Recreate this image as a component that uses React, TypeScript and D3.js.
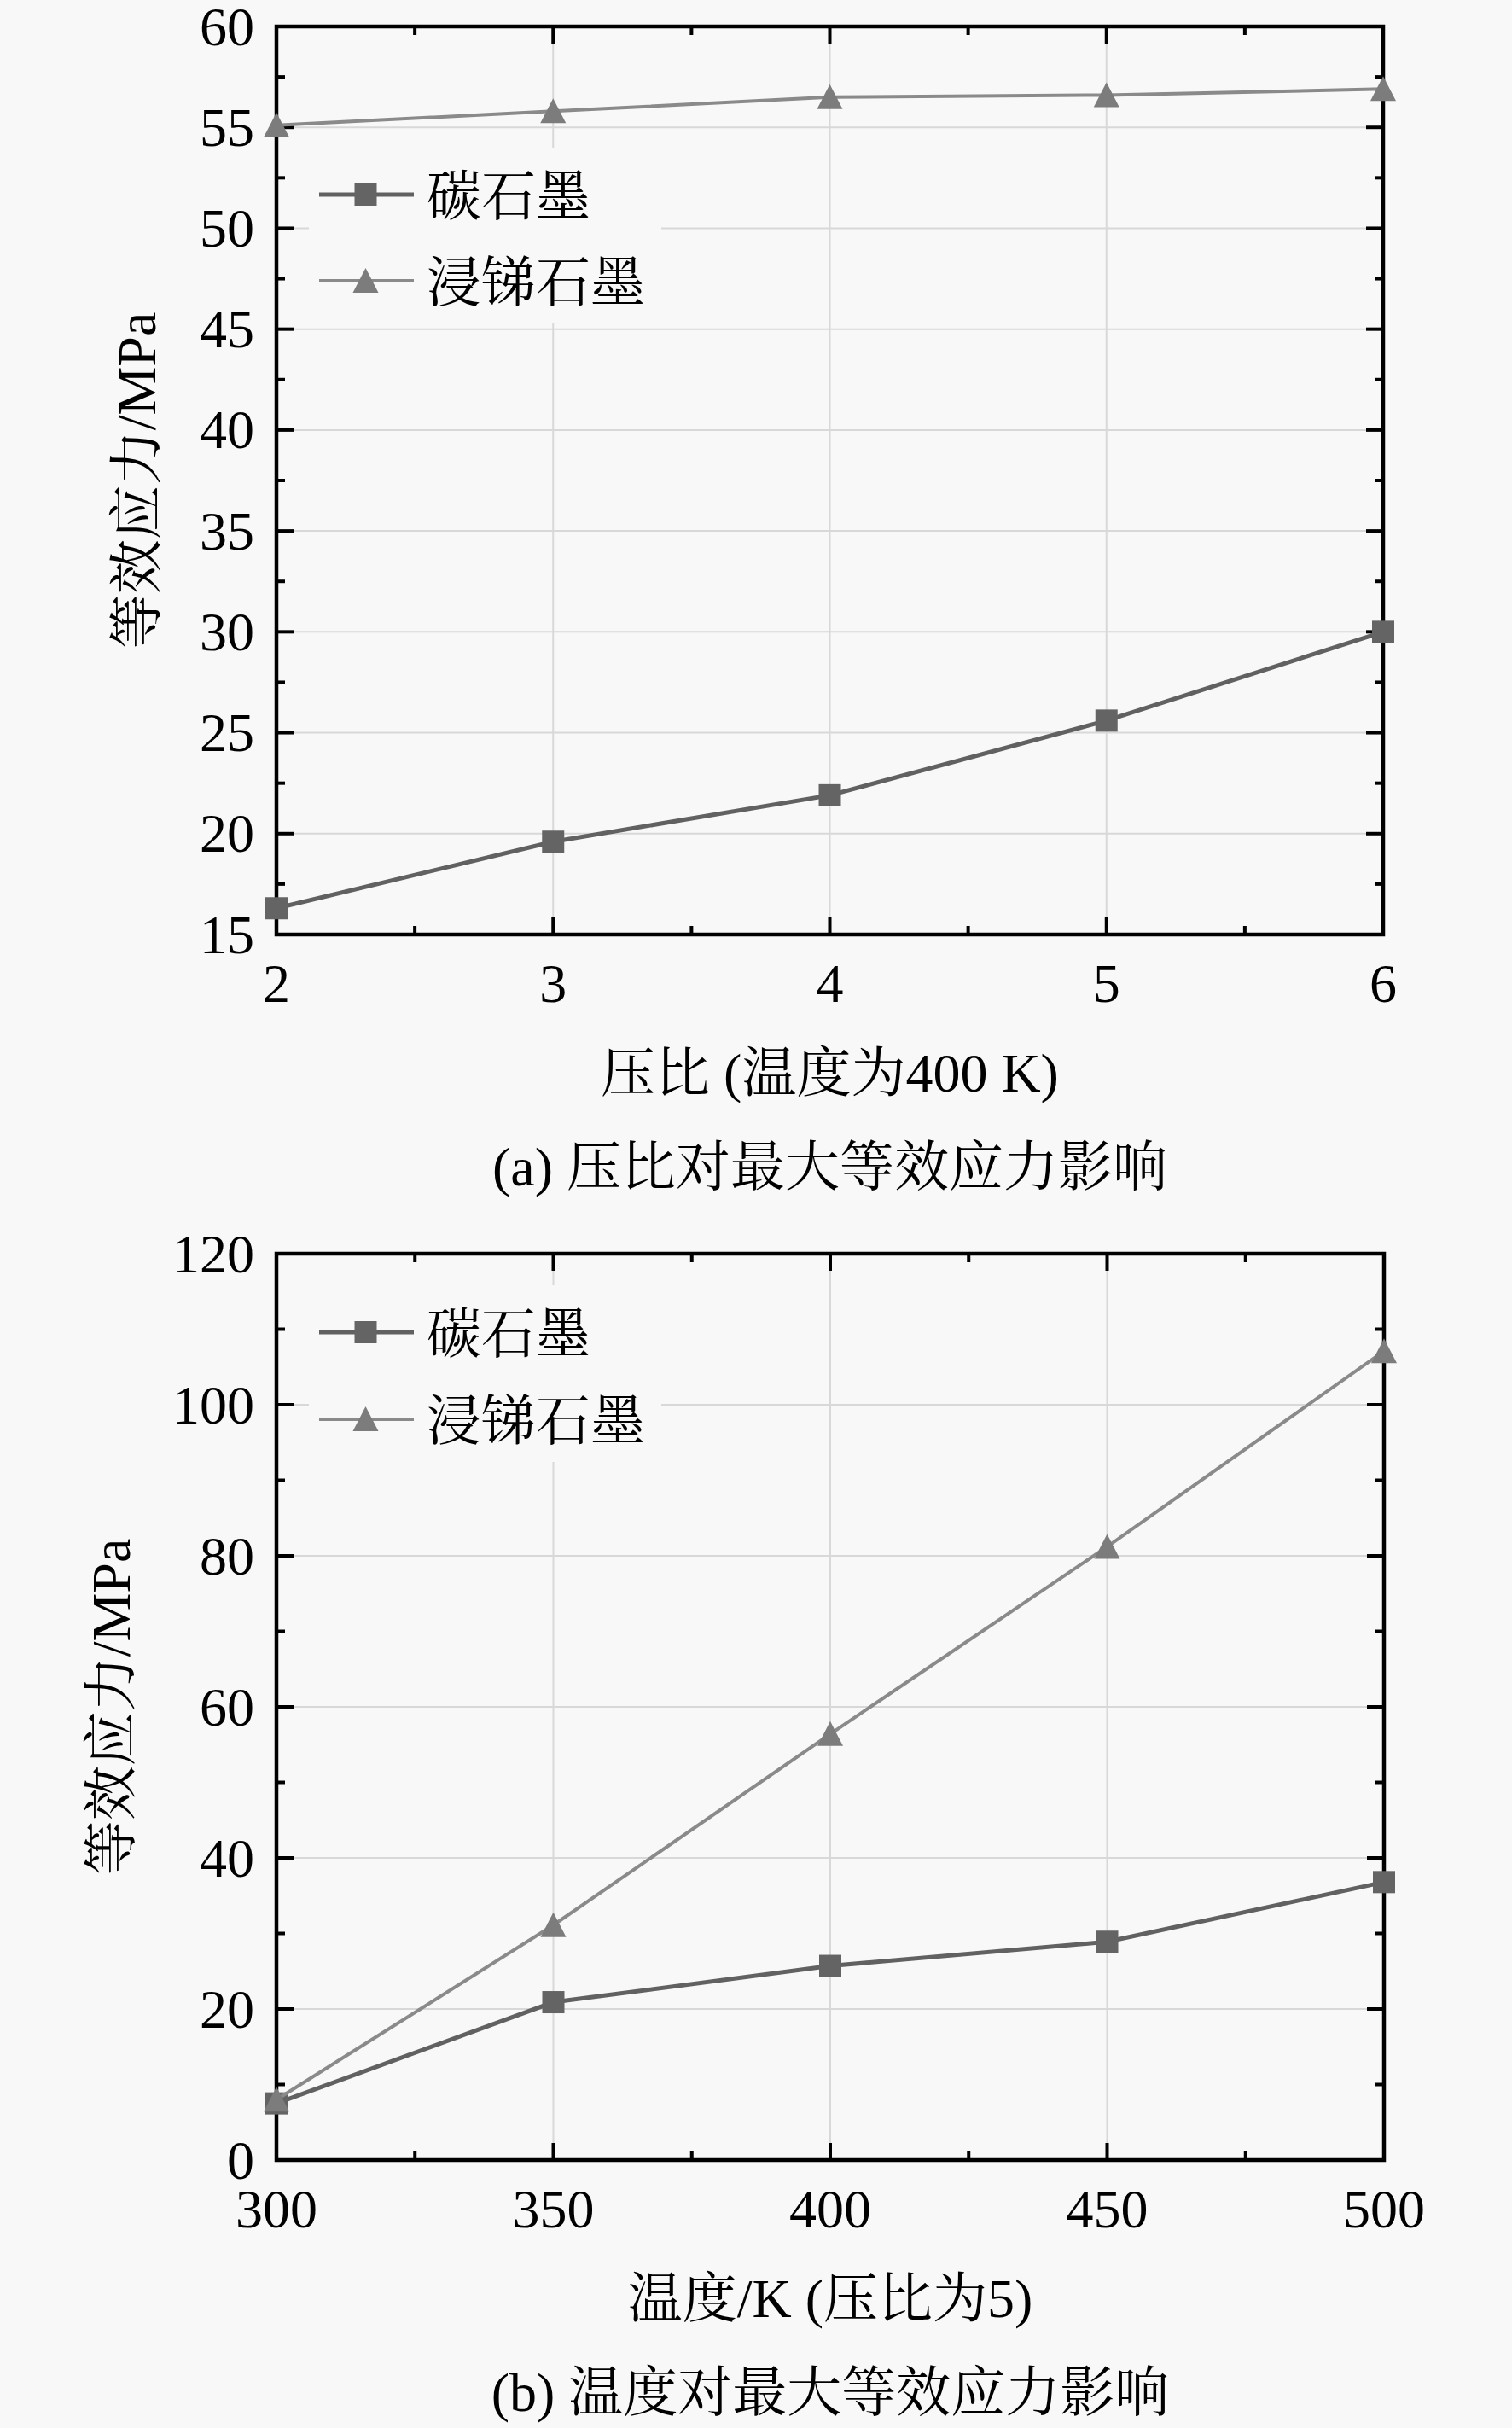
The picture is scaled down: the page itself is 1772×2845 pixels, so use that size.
import { useEffect, useRef } from "react";
import * as d3 from "d3";

const W = 1772;
const H = 2845;
const FONT =
  "'Liberation Serif', 'Times New Roman', 'Noto Serif CJK SC', 'Noto Sans CJK SC', serif";

// (a) 压比
const ratioTicks = [2, 3, 4, 5, 6];
const ratioYTicks = [15, 20, 25, 30, 35, 40, 45, 50, 55, 60];
const ratioCarbon = [16.3, 19.6, 21.9, 25.6, 30.0];
const ratioAntimony = [55.1, 55.8, 56.5, 56.6, 56.9];

// (b) 温度
const tempTicks = [300, 350, 400, 450, 500];
const tempYTicks = [0, 20, 40, 60, 80, 100, 120];
const tempCarbon = [7.5, 20.9, 25.7, 28.9, 36.8];
const tempAntimony = [8.0, 31.1, 56.4, 81.2, 107.1];

const seriesNames = ["碳石墨", "浸锑石墨"];

type Panel = {
  left: number;
  right: number;
  top: number;
  bottom: number;
  xTicks: number[];
  yTicks: number[];
  carbon: number[];
  antimony: number[];
  yTitleX: number;
  legendY: number[];
  xTitle: string;
  caption: string;
};

function drawPanel(svg: d3.Selection<SVGSVGElement, unknown, null, undefined>, p: Panel) {
  const x = d3
    .scaleLinear()
    .domain([p.xTicks[0], p.xTicks[p.xTicks.length - 1]])
    .range([p.left, p.right]);
  const y = d3
    .scaleLinear()
    .domain([p.yTicks[0], p.yTicks[p.yTicks.length - 1]])
    .range([p.bottom, p.top]);

  const g = svg.append("g");

  // grid
  g.selectAll(".gx")
    .data(p.xTicks.slice(1, -1))
    .join("line")
    .attr("x1", (d) => x(d))
    .attr("x2", (d) => x(d))
    .attr("y1", p.top)
    .attr("y2", p.bottom)
    .attr("stroke", "#d8d8d8")
    .attr("stroke-width", 2);
  g.selectAll(".gy")
    .data(p.yTicks.slice(1, -1))
    .join("line")
    .attr("x1", p.left)
    .attr("x2", p.right)
    .attr("y1", (d) => y(d))
    .attr("y2", (d) => y(d))
    .attr("stroke", "#d8d8d8")
    .attr("stroke-width", 2);

  // legend background
  g.append("rect")
    .attr("x", 362)
    .attr("y", p.legendY[0] - 55)
    .attr("width", 413)
    .attr("height", p.legendY[1] - p.legendY[0] + 105)
    .attr("fill", "#f8f8f8");

  // frame + ticks
  g.append("rect")
    .attr("x", p.left)
    .attr("y", p.top)
    .attr("width", p.right - p.left)
    .attr("height", p.bottom - p.top)
    .attr("fill", "none")
    .attr("stroke", "#000")
    .attr("stroke-width", 4.5);

  const xMinor = d3.pairs(p.xTicks).map(([a, b]) => (a + b) / 2);
  const yMinor = d3.pairs(p.yTicks).map(([a, b]) => (a + b) / 2);
  const xt = [
    ...p.xTicks.map((v) => ({ v, len: 20 })),
    ...xMinor.map((v) => ({ v, len: 10 })),
  ];
  const yt = [
    ...p.yTicks.map((v) => ({ v, len: 20 })),
    ...yMinor.map((v) => ({ v, len: 10 })),
  ];
  [p.bottom, p.top].forEach((base, i) => {
    g.selectAll(null)
      .data(xt)
      .join("line")
      .attr("x1", (d) => x(d.v))
      .attr("x2", (d) => x(d.v))
      .attr("y1", base)
      .attr("y2", (d) => (i === 0 ? base - d.len : base + d.len))
      .attr("stroke", "#000")
      .attr("stroke-width", 4);
  });
  [p.left, p.right].forEach((base, i) => {
    g.selectAll(null)
      .data(yt)
      .join("line")
      .attr("y1", (d) => y(d.v))
      .attr("y2", (d) => y(d.v))
      .attr("x1", base)
      .attr("x2", (d) => (i === 0 ? base + d.len : base - d.len))
      .attr("stroke", "#000")
      .attr("stroke-width", 4);
  });

  // series
  const series = [
    { vals: p.carbon, line: "#616161", fill: "#646464", width: 5, shape: "square" },
    { vals: p.antimony, line: "#8a8a8a", fill: "#7c7c7c", width: 4, shape: "triangle" },
  ];
  const squarePath = "M-13,-13H13V13H-13Z";
  const trianglePath = "M0,-15L15,14L-15,14Z";
  const line = d3
    .line<number>()
    .x((_d, i) => x(p.xTicks[i]))
    .y((d) => y(d));

  series.forEach((s) => {
    g.append("path")
      .datum(s.vals)
      .attr("d", line)
      .attr("fill", "none")
      .attr("stroke", s.line)
      .attr("stroke-width", s.width);
    g.selectAll(null)
      .data(s.vals)
      .join("path")
      .attr("transform", (d, i) => `translate(${x(p.xTicks[i])},${y(d)})`)
      .attr("d", s.shape === "square" ? squarePath : trianglePath)
      .attr("fill", s.fill);
  });

  // legend
  series.forEach((s, i) => {
    const ly = p.legendY[i];
    g.append("line")
      .attr("x1", 374)
      .attr("x2", 485)
      .attr("y1", ly)
      .attr("y2", ly)
      .attr("stroke", s.line)
      .attr("stroke-width", s.width);
    g.append("path")
      .attr("transform", `translate(428.5,${ly})`)
      .attr("d", s.shape === "square" ? squarePath : trianglePath)
      .attr("fill", s.fill);
    g.append("text")
      .attr("x", 500)
      .attr("y", ly + 2)
      .attr("dominant-baseline", "central")
      .attr("font-size", 64)
      .attr("fill", "#000")
      .text(seriesNames[i]);
  });

  // tick labels
  g.selectAll(null)
    .data(p.xTicks)
    .join("text")
    .attr("x", (d) => x(d))
    .attr("y", p.bottom + 57)
    .attr("text-anchor", "middle")
    .attr("dominant-baseline", "central")
    .attr("font-size", 64)
    .text((d) => String(d));
  g.selectAll(null)
    .data(p.yTicks)
    .join("text")
    .attr("x", p.left - 26)
    .attr("y", (d) => y(d))
    .attr("text-anchor", "end")
    .attr("dominant-baseline", "central")
    .attr("font-size", 64)
    .text((d) => String(d));

  // titles
  const cx = (p.left + p.right) / 2;
  g.append("text")
    .attr("transform", `translate(${p.yTitleX},${(p.top + p.bottom) / 2}) rotate(-90)`)
    .attr("text-anchor", "middle")
    .attr("dominant-baseline", "central")
    .attr("font-size", 64)
    .text("等效应力/MPa");
  g.append("text")
    .attr("x", cx)
    .attr("y", p.bottom + 162)
    .attr("text-anchor", "middle")
    .attr("dominant-baseline", "central")
    .attr("font-size", 64)
    .text(p.xTitle);
  g.append("text")
    .attr("x", cx)
    .attr("y", p.bottom + 272)
    .attr("text-anchor", "middle")
    .attr("dominant-baseline", "central")
    .attr("font-size", 64)
    .text(p.caption);
}

export default function App() {
  const svgRef = useRef<SVGSVGElement>(null);

  useEffect(() => {
    if (!svgRef.current) return;
    const svg = d3.select(svgRef.current);
    svg.selectAll("*").remove();

    svg.append("rect").attr("width", W).attr("height", H).attr("fill", "#f8f8f8");

    drawPanel(svg, {
      left: 324,
      right: 1621,
      top: 31,
      bottom: 1095,
      xTicks: ratioTicks,
      yTicks: ratioYTicks,
      carbon: ratioCarbon,
      antimony: ratioAntimony,
      yTitleX: 160,
      legendY: [228, 329],
      xTitle: "压比 (温度为400 K)",
      caption: "(a) 压比对最大等效应力影响",
    });

    drawPanel(svg, {
      left: 324,
      right: 1622,
      top: 1469,
      bottom: 2531,
      xTicks: tempTicks,
      yTicks: tempYTicks,
      carbon: tempCarbon,
      antimony: tempAntimony,
      yTitleX: 130,
      legendY: [1561, 1663],
      xTitle: "温度/K (压比为5)",
      caption: "(b) 温度对最大等效应力影响",
    });
  }, []);

  return (
    <div style={{ position: "absolute", left: 0, top: 0 }}>
      <svg
        ref={svgRef}
        width={W}
        height={H}
        style={{ display: "block", fontFamily: FONT }}
      />
    </div>
  );
}
